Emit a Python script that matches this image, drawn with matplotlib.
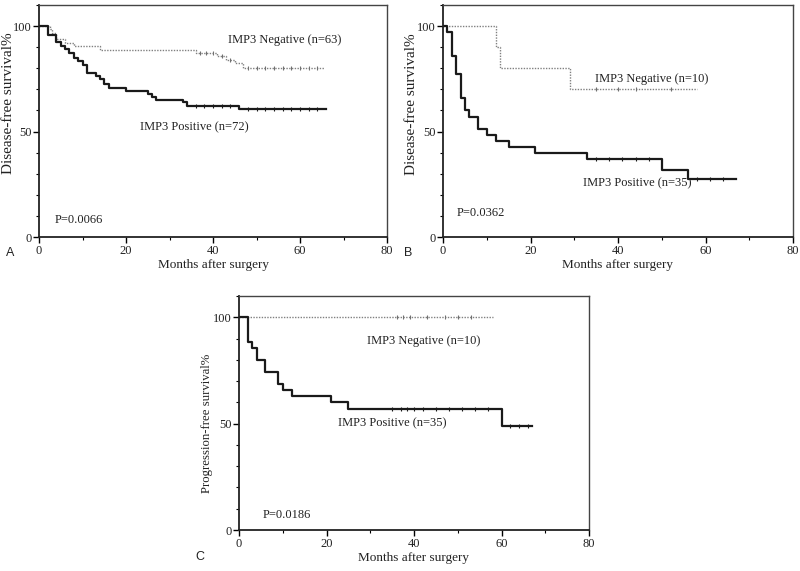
import matplotlib
matplotlib.use("Agg")
import matplotlib.pyplot as plt
from matplotlib.ticker import MultipleLocator

# ---------------- data ----------------
# Panel A
A_pos_t = [0, 2, 4, 5, 6, 7, 8, 9, 10, 11, 13, 14, 15, 16, 20, 25, 26, 27, 33, 34, 46, 66]
A_pos_s = [100, 96, 92.5, 90.5, 89, 87.3, 85, 83.3, 81.8, 77.8, 76.5, 75, 72.5, 70.8, 69.4, 68, 66.5, 65.2, 63.8, 62.3, 60.5, 60.5]
A_pos_cens_t = [36, 38, 40, 42, 44, 48, 50, 52, 54, 56, 58, 60, 62, 64]
A_neg_t = [0, 2.5, 3, 4, 6, 8, 14, 36, 41, 43, 45, 47, 65.5]
A_neg_s = [100, 98.4, 96.8, 93.7, 92.1, 90.5, 88.9, 87.3, 85.7, 84.1, 82.5, 80.3, 80.3]
A_neg_cens_t = [37, 38.5, 40, 42, 44, 48, 50, 52, 54, 56, 58, 60, 62, 64]

# Panel B
B_pos_t = [0, 1, 2, 3, 4, 5, 6, 8, 10, 12, 15, 21, 33, 50, 56, 67]
B_pos_s = [100, 97.1, 85.7, 77.1, 65.7, 60.0, 57.1, 51.4, 48.6, 45.7, 42.9, 40.0, 37.1, 31.9, 27.5, 27.5]
B_pos_cens_t = [35, 38, 41, 44, 47, 58, 61, 64]
B_neg_t = [0, 12, 13, 29, 58]
B_neg_s = [100, 90, 80, 70, 70]
B_neg_cens_t = [35, 40, 44, 52]

# Panel C
C_pos_t = [0, 2, 3, 4, 6, 9, 10, 12, 21, 25, 60, 67]
C_pos_s = [100, 88.6, 85.7, 80.0, 74.3, 68.6, 65.7, 62.9, 60.0, 57.1, 49.0, 49.0]
C_pos_cens_t = [35, 37, 38.5, 40, 42, 45, 48, 51, 54, 57, 62, 64, 66]
C_neg_t = [0, 58]
C_neg_s = [100, 100]
C_neg_cens_t = [36, 37.5, 39, 43, 47, 50, 53]

panels = [
    dict(letter="A", rect=[0.04875, 0.5849, 0.435, 0.4063], ylabel="Disease-free survival%",
         ylab_size=11, ylab_xy=(-0.068, 0.575),
         pos=(A_pos_t, A_pos_s, A_pos_cens_t), neg=(A_neg_t, A_neg_s, A_neg_cens_t),
         neg_lab="IMP3 Negative (n=63)", neg_xy=(43.4, 93.3),
         pos_lab="IMP3 Positive (n=72)", pos_xy=(23.2, 51.9),
         p="P=0.0066", p_xy=(3.7, 8), letter_xy=(6, 253)),
    dict(letter="B", rect=[0.55375, 0.5849, 0.4375, 0.4063], ylabel="Disease-free survival%",
         ylab_size=11, ylab_xy=(-0.072, 0.572),
         pos=(B_pos_t, B_pos_s, B_pos_cens_t), neg=(B_neg_t, B_neg_s, B_neg_cens_t),
         neg_lab="IMP3 Negative (n=10)", neg_xy=(34.7, 74.8),
         pos_lab="IMP3 Positive (n=35)", pos_xy=(32, 25.7),
         p="P=0.0362", p_xy=(3.2, 11.4), letter_xy=(404, 253)),
    dict(letter="C", rect=[0.29875, 0.0718, 0.4375, 0.4098], ylabel="Progression-free survival%",
         ylab_size=9.2, ylab_xy=(-0.074, 0.455),
         pos=(C_pos_t, C_pos_s, C_pos_cens_t), neg=(C_neg_t, C_neg_s, C_neg_cens_t),
         neg_lab="IMP3 Negative (n=10)", neg_xy=(29.3, 88.7),
         pos_lab="IMP3 Positive (n=35)", pos_xy=(22.7, 50),
         p="P=0.0186", p_xy=(5.3, 7), letter_xy=(195, 557)),
]

serif = "Liberation Serif"
fig = plt.figure(figsize=(8.0, 5.71), dpi=100)


def step_value(ts, ss, x):
    v = ss[0]
    for t, s in zip(ts, ss):
        if t <= x:
            v = s
    return v


for P in panels:
    ax = fig.add_axes(P["rect"])
    # negative (dotted grey)
    nt, ns, nc = P["neg"]
    ax.step(nt, ns, where="post", color="#808080", lw=1.0, ls=(0, (1, 1)))
    ax.plot(nc, [step_value(nt, ns, c) for c in nc], ls="none", marker="|",
            ms=2.5, mew=0.8, color="#707070")
    # positive (solid black)
    pt, ps, pc = P["pos"]
    ax.step(pt, ps, where="post", color="#1a1a1a", lw=1.6)
    ax.plot(pc, [step_value(pt, ps, c) for c in pc], ls="none", marker="|",
            ms=2.5, mew=0.8, color="#1a1a1a")

    ax.set_xlim(0, 80)
    ax.set_ylim(0, 110)
    ax.xaxis.set_major_locator(MultipleLocator(20))
    ax.xaxis.set_minor_locator(MultipleLocator(10))
    ax.set_yticks([0, 50, 100])
    ax.yaxis.set_minor_locator(MultipleLocator(10))
    ax.tick_params(which="major", direction="out", length=4, width=1, labelsize=9, pad=1.5)
    ax.tick_params(which="minor", direction="out", length=2.5, width=0.8)
    for lab in ax.get_xticklabels() + ax.get_yticklabels():
        lab.set_fontfamily(serif)
        lab.set_color("#222222")
    for sp in ax.spines.values():
        sp.set_linewidth(1.0)
        sp.set_color("#444444")
    ax.spines["left"].set_linewidth(1.3)
    ax.spines["left"].set_color("#222222")
    ax.spines["bottom"].set_linewidth(1.3)
    ax.spines["bottom"].set_color("#222222")

    ax.set_xlabel("Months after surgery", fontfamily=serif, fontsize=9.5, labelpad=2, color="#222222")
    ax.set_ylabel(P["ylabel"], fontfamily=serif, fontsize=P["ylab_size"], color="#222222")
    ax.yaxis.set_label_coords(*P["ylab_xy"])

    ax.text(*P["neg_xy"], P["neg_lab"], fontfamily=serif, fontsize=9, va="center", color="#222222")
    ax.text(*P["pos_xy"], P["pos_lab"], fontfamily=serif, fontsize=9, va="center", color="#222222")
    ax.text(*P["p_xy"], P["p"], fontfamily=serif, fontsize=9, va="center", color="#222222")

    lx, ly = P["letter_xy"]
    fig.text(lx / 800, 1 - ly / 571, P["letter"], fontfamily="Liberation Sans", fontsize=9,
             va="center", ha="left", color="#222222")

fig.savefig("out.png", dpi=100)
